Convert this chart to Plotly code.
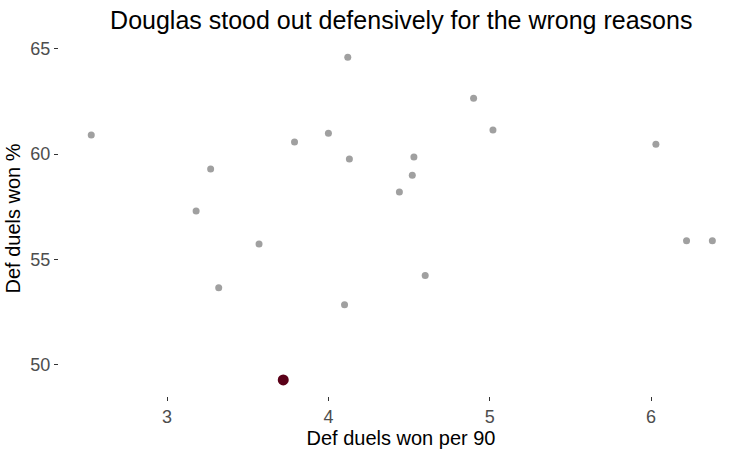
import plotly.graph_objects as go

# other players (grey)
duels_p90 = [2.53, 4.12, 3.27, 3.18, 3.79, 4.00, 4.13, 4.90, 5.02, 4.53,
             4.52, 4.44, 6.03, 3.57, 3.32, 4.10, 4.60, 6.22, 6.38]
duels_pct = [60.90, 64.59, 59.29, 57.30, 60.57, 60.99, 59.76, 62.65, 61.14, 59.86,
             59.00, 58.20, 60.47, 55.74, 53.66, 52.86, 54.24, 55.89, 55.89]

# Douglas
douglas_p90 = [3.72]
douglas_pct = [49.29]

fig = go.Figure()
fig.add_trace(go.Scatter(x=duels_p90, y=duels_pct, mode='markers',
                         marker=dict(color="#A0A0A0", size=7), showlegend=False))
fig.add_trace(go.Scatter(x=douglas_p90, y=douglas_pct, mode='markers',
                         marker=dict(color="#5A0018", size=11), showlegend=False))

fig.update_layout(
    template="none",
    width=750, height=453,
    margin=dict(l=59, r=7, t=41, b=57),
    paper_bgcolor="white", plot_bgcolor="white",
    font=dict(family="Liberation Sans, Arial, sans-serif"),
    title=dict(text="Douglas stood out defensively for the wrong reasons",
               x=0.535, xanchor="center", y=0.955, yanchor="middle",
               font=dict(size=25, color="black")),
)

fig.update_xaxes(range=[2.33, 6.57], tickvals=[3, 4, 5, 6], automargin=False,
                 showgrid=False, zeroline=False, showline=False,
                 ticks="outside", ticklen=4, tickcolor="#333333",
                 tickfont=dict(size=18, color="#4D4D4D"),
                 title=dict(text="Def duels won per 90", standoff=4,
                            font=dict(size=20, color="black")))
fig.update_yaxes(range=[48.53, 65.36], tickvals=[50, 55, 60, 65], automargin=False,
                 showgrid=False, zeroline=False, showline=False,
                 ticks="outside", ticklen=4, tickcolor="#333333",
                 tickfont=dict(size=18, color="#4D4D4D"),
                 title=dict(text="Def duels won %", standoff=4,
                            font=dict(size=20, color="black")))

fig.write_html("out.html", config={"displayModeBar": False},
               post_script="document.body.style.margin='0';")
